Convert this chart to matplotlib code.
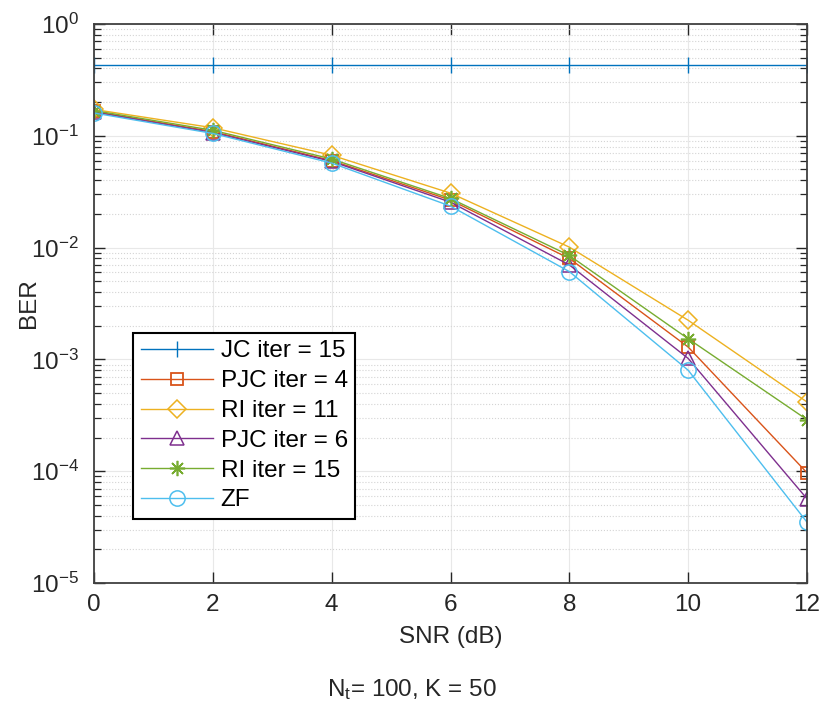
import matplotlib
matplotlib.use("Agg")
import matplotlib.pyplot as plt
from matplotlib.ticker import LogLocator, FixedLocator, NullFormatter

plt.rcParams['font.family'] = ['Liberation Sans', 'DejaVu Sans']
plt.rcParams['mathtext.fontset'] = 'custom'
plt.rcParams['mathtext.rm'] = 'Liberation Sans'
plt.rcParams['mathtext.it'] = 'Liberation Sans'

snr = [0, 2, 4, 6, 8, 10, 12]
jc15 = [0.43, 0.43, 0.43, 0.43, 0.43, 0.43, 0.43]
pjc4 = [0.165, 0.109, 0.060, 0.0266, 0.0080, 0.00129, 0.0000968]
ri11 = [0.172, 0.118, 0.067, 0.0307, 0.0101, 0.00224, 0.000416]
pjc6 = [0.163, 0.107, 0.059, 0.0255, 0.0070, 0.00102, 0.0000567]
ri15 = [0.168, 0.112, 0.062, 0.0275, 0.0085, 0.00153, 0.000289]
zf = [0.160, 0.105, 0.057, 0.0235, 0.0061, 0.00080, 0.000035]

labels = ["JC iter = 15", "PJC iter = 4", "RI iter = 11", "PJC iter = 6", "RI iter = 15", "ZF"]
xticks = [0, 2, 4, 6, 8, 10, 12]

fig = plt.figure(figsize=(8.24, 7.13), dpi=100)
ax = fig.add_axes([94/824, 1-583/713, 713/824, 559/713])

ax.plot(snr, jc15, color='#0072BD', marker='|', markersize=12, lw=1.0, label=labels[0])
ax.plot(snr, pjc4, color='#D95319', marker='s', markersize=9, mfc='none', mew=1.3, lw=1.0, label=labels[1])
ax.plot(snr, ri11, color='#EDB120', marker='D', markersize=9, mfc='none', mew=1.1, lw=1.0, label=labels[2])
ax.plot(snr, pjc6, color='#7E2F8E', marker='^', markersize=10, mfc='none', mew=1.1, lw=1.0, label=labels[3])
ax.plot(snr, ri15, color='#77AC30', marker=(8, 2, 0), markersize=11, mew=1.2, lw=1.0, label=labels[4])
ax.plot(snr, zf, color='#4DBEEE', marker='o', markersize=11, mfc='none', mew=1.1, lw=1.0, label=labels[5])

ax.set_yscale('log')
ax.set_xlim(0, 12)
ax.set_ylim(1e-5, 1)
ax.xaxis.set_major_locator(FixedLocator(xticks))
ax.set_xticklabels([str(t) for t in xticks])
ax.yaxis.set_major_locator(LogLocator(base=10, numticks=10))
ax.yaxis.set_minor_locator(LogLocator(base=10, subs=range(2, 10), numticks=20))
ax.yaxis.set_minor_formatter(NullFormatter())

ax.grid(True, which='major', color='#e8e8e8', linestyle='-', linewidth=0.8)
ax.grid(True, which='minor', axis='y', color='#d4d4d4', linestyle=':', linewidth=0.8)

ax.tick_params(which='both', direction='in', top=True, right=True, colors='#262626', labelcolor='#262626')
ax.tick_params(axis='y', which='major', length=8, width=1.0, labelsize=17.5, pad=11)
ax.tick_params(axis='x', which='major', length=8, width=1.0, labelsize=17.5, pad=8)
ax.tick_params(which='minor', length=5, width=0.9)
for sp in ax.spines.values():
    sp.set_color('#404040')
    sp.set_linewidth(1.3)

ax.set_xlabel('SNR (dB)', fontsize=17.5, color='#262626', labelpad=7)
ax.set_ylabel('BER', fontsize=17.5, color='#262626')
ax.yaxis.set_label_coords(-0.076, 0.5)

leg = ax.legend(loc='upper left', bbox_to_anchor=(0.055, 0.447), fontsize=17.5,
                frameon=True, fancybox=False, edgecolor='black', handlelength=3.0,
                borderpad=0.3, labelspacing=0.32, handletextpad=0.3, borderaxespad=0)
leg.get_frame().set_linewidth(1.5)
leg.get_frame().set_alpha(1)

fig.text(0.5, 1-690/713, r'N$_{\mathrm{t}}$= 100, K = 50', ha='center', va='center', fontsize=17.5, color='#262626')

fig.savefig('out.png', dpi=100)
